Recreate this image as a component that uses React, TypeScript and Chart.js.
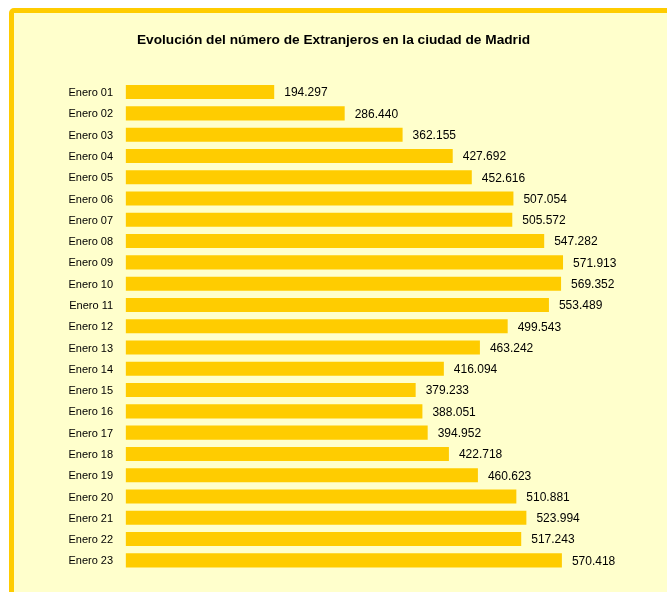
import React, { useEffect, useRef } from "react";
import { Chart, registerables } from "chart.js";

Chart.register(...registerables);

const categories = [
  "Enero 01", "Enero 02", "Enero 03", "Enero 04", "Enero 05", "Enero 06",
  "Enero 07", "Enero 08", "Enero 09", "Enero 10", "Enero 11", "Enero 12",
  "Enero 13", "Enero 14", "Enero 15", "Enero 16", "Enero 17", "Enero 18",
  "Enero 19", "Enero 20", "Enero 21", "Enero 22", "Enero 23",
];

const extranjeros = [
  194297, 286440, 362155, 427692, 452616, 507054, 505572, 547282, 571913,
  569352, 553489, 499543, 463242, 416094, 379233, 388051, 394952, 422718,
  460623, 510881, 523994, 517243, 570418,
];

const titleText = "Evolución del número de Extranjeros en la ciudad de Madrid";
const axisMax = 700000;

const FONT = "'Liberation Sans', Arial, Helvetica, sans-serif";

function formatNumber(v: number): string {
  return String(v).replace(/\B(?=(\d{3})+(?!\d))/g, ".");
}

const valueLabels = {
  id: "valueLabels",
  afterDatasetsDraw(chart: any) {
    const ctx = chart.ctx;
    const meta = chart.getDatasetMeta(0);
    const data = chart.data.datasets[0].data as number[];
    ctx.save();
    ctx.font = `12px ${FONT}`;
    ctx.fillStyle = "#000000";
    ctx.textAlign = "left";
    ctx.textBaseline = "middle";
    meta.data.forEach((bar: any, i: number) => {
      ctx.fillText(formatNumber(data[i]), bar.x + 10, bar.y + 1);
    });
    ctx.restore();
  },
};

export default function App() {
  const canvasRef = useRef<HTMLCanvasElement | null>(null);

  useEffect(() => {
    if (!canvasRef.current) return;
    const chart = new Chart(canvasRef.current, {
      type: "bar",
      data: {
        labels: categories,
        datasets: [
          {
            data: extranjeros,
            backgroundColor: "#FFCC00",
            borderWidth: 0,
            categoryPercentage: 1,
            barPercentage: 0.66,
          },
        ],
      },
      options: {
        indexAxis: "y",
        responsive: false,
        animation: false,
        devicePixelRatio: 1,
        layout: { padding: { left: 6, right: 6, top: 0, bottom: 21 } },
        plugins: {
          legend: { display: false },
          tooltip: { enabled: false },
          title: {
            display: true,
            text: titleText,
            color: "#000000",
            font: { family: FONT, size: 13.7, weight: "bold" },
            padding: { top: 32.5, bottom: 32.5 },
          },
        },
        scales: {
          x: {
            display: false,
            min: 0,
            max: axisMax,
          },
          y: {
            grid: { display: false, drawTicks: false },
            border: { display: false },
            ticks: {
              color: "#000000",
              font: { family: FONT, size: 11 },
              padding: 12.5,
              labelOffset: 1,
            },
            afterFit(scale: any) {
              scale.width = 119.6;
            },
          },
        },
      },
      plugins: [valueLabels],
    });
    return () => chart.destroy();
  }, []);

  return (
    <div
      style={{
        position: "fixed",
        left: 0,
        top: 0,
        width: 667,
        height: 592,
        overflow: "hidden",
        background: "#ffffff",
      }}
    >
      <div
        style={{
          position: "absolute",
          left: 9,
          top: 8,
          width: 700,
          height: 700,
          border: "5px solid #FFCC00",
          borderRadius: 5,
          background: "#FFFFCC",
          boxSizing: "border-box",
        }}
      />
      <canvas
        ref={canvasRef}
        width={667}
        height={592}
        style={{ position: "absolute", left: 0, top: 0, width: 667, height: 592 }}
      />
    </div>
  );
}
